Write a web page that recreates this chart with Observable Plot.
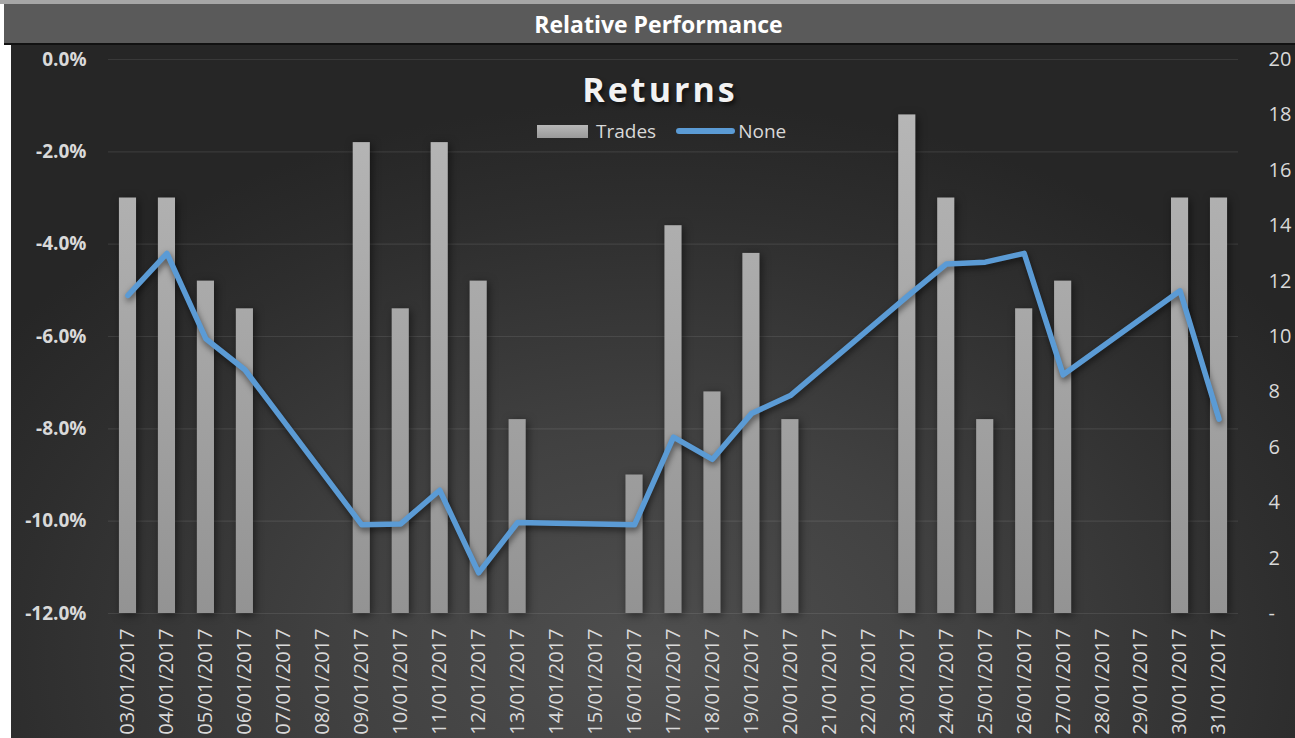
<!DOCTYPE html>
<html>
<head>
<meta charset="utf-8">
<script src="https://cdn.jsdelivr.net/npm/d3@7"></script>
<script src="https://cdn.jsdelivr.net/npm/@observablehq/plot@0.6"></script>
<style>
html,body{margin:0;padding:0;background:#ffffff;width:1295px;height:738px;overflow:hidden;font-family:"Open Sans",sans-serif}
#topstrip{position:absolute;left:0;top:0;width:1295px;height:4px;background:#a6a6a6}
#titlebar{position:absolute;left:4px;top:4px;width:1291px;height:39px;background:#5a5a5a;border-bottom:2px solid #111;color:#fff;font-weight:bold;font-size:23px;text-align:center;line-height:40px;box-sizing:content-box}
#titlebar span{position:relative;left:9px}
#chart{position:absolute;left:11px;top:45px;width:1284px;height:693px;overflow:hidden;
  background:radial-gradient(ellipse 62% 80% at 50% 88%, #4f4f4f 0%, #414141 40%, #2e2e2e 80%, #262626 100%)}
#chart svg{position:absolute;left:0;top:0;overflow:visible}
#returns{position:absolute;left:649px;top:22px;transform:translateX(-50%);font-size:34px;font-weight:bold;letter-spacing:3px;color:#f2f2f2;text-shadow:2px 3px 4px rgba(0,0,0,.6);white-space:nowrap;line-height:44px}
#legend{position:absolute;left:526px;top:72px;display:flex;align-items:center;font-size:19px;color:#d9d9d9;white-space:nowrap;line-height:28px}
#legend .sw1{width:51px;height:13px;background:linear-gradient(#b8b8b8,#9a9a9a);margin-right:8px}
#legend .sw2{width:59px;height:6px;border-radius:3px;background:#5b9bd5;margin-left:20px;margin-right:3px}
g[aria-label="line"] path{filter:drop-shadow(1px 3px 3px rgba(0,0,0,.55))}
g[aria-label="bar"]{filter:drop-shadow(2px 2px 4px rgba(0,0,0,.5))}
</style>
</head>
<body>
<div id="topstrip"></div>
<div id="titlebar"><span>Relative Performance</span></div>
<div id="chart">
  <div id="plot"></div>
  <div id="returns">Returns</div>
  <div id="legend"><div class="sw1"></div><span>Trades</span><div class="sw2"></div><span>None</span></div>
</div>
<script>
const dates = ["03/01/2017","04/01/2017","05/01/2017","06/01/2017","07/01/2017","08/01/2017","09/01/2017","10/01/2017","11/01/2017","12/01/2017","13/01/2017","14/01/2017","15/01/2017","16/01/2017","17/01/2017","18/01/2017","19/01/2017","20/01/2017","21/01/2017","22/01/2017","23/01/2017","24/01/2017","25/01/2017","26/01/2017","27/01/2017","28/01/2017","29/01/2017","30/01/2017","31/01/2017"];
const trades = [15,15,12,11,0,0,17,11,17,12,7,0,0,5,14,8,13,7,0,0,18,15,7,11,12,0,0,15,15];
const returnsPct = [-5.11,-4.20,-6.05,-6.72,null,null,-10.08,-10.06,-9.33,-11.12,-10.03,null,null,-10.08,-8.18,-8.66,-7.67,-7.28,null,null,-5.13,-4.43,-4.39,-4.20,-6.83,null,null,-5.01,-7.79];
const leftTicks = [0,-2,-4,-6,-8,-10,-12];
const rightTicks = [0,2,4,6,8,10,12,14,16,18,20];

const rows = dates.map((date,i)=>({date, trades: trades[i], ret: returnsPct[i]}));
// map right-axis (trades) onto left-axis (percent) domain
const t2p = d3.scaleLinear().domain([0,20]).range([-12,0]);

const W = 1284, H = 693;
const chart = Plot.plot({
  width: W, height: H,
  marginLeft: 97, marginRight: 57, marginTop: 14, marginBottom: 125,
  style: {background:"transparent", color:"#d9d9d9", fontFamily:"'Open Sans', sans-serif", overflow:"visible"},
  x: {domain: dates, paddingInner: 0.56, paddingOuter: 0.28, round: false, axis: null, label: null},
  y: {domain: [-12, 0], axis: null, label: null},
  marks: [
    Plot.gridY(leftTicks, {stroke:"#ffffff", strokeOpacity:0.09, strokeWidth:1.2}),
    Plot.barY(rows.filter(d=>d.trades>0), {x:"date", y1: () => t2p(0), y2: d => t2p(d.trades), fill:"url(#barGrad)"}),
    Plot.line(rows.filter(d=>d.ret!=null), {x:"date", y:"ret", stroke:"#5b9bd5", strokeWidth:5.5, strokeLinejoin:"round", strokeLinecap:"round"}),
    Plot.axisY(leftTicks, {anchor:"left", label:null, tickSize:0, tickPadding:22, tickFormat: d => d.toFixed(1)+"%", fontSize:19, fontWeight:"bold", fill:"#d9d9d9"}),
    Plot.axisY(rightTicks.map(t=>t2p(t)), {anchor:"right", label:null, tickSize:0, tickPadding:30, fontSize:20, fill:"#d9d9d9",
      tickFormat: p => { const t = Math.round(t2p.invert(p)); return t === 0 ? "-" : String(t); }}),
    Plot.axisX({label:null, tickRotate:-90, tickSize:0, tickPadding:15, fontSize:20, fill:"#d9d9d9"})
  ]
});
const defs = d3.select(chart).insert("defs", ":first-child");
const g = defs.append("linearGradient").attr("id","barGrad").attr("gradientUnits","userSpaceOnUse")
  .attr("x1",0).attr("x2",0).attr("y1",14).attr("y2",H-125);
g.append("stop").attr("offset","0%").attr("stop-color","#bababa");
g.append("stop").attr("offset","100%").attr("stop-color","#939393");
document.getElementById("plot").appendChild(chart);
</script>
</body>
</html>
